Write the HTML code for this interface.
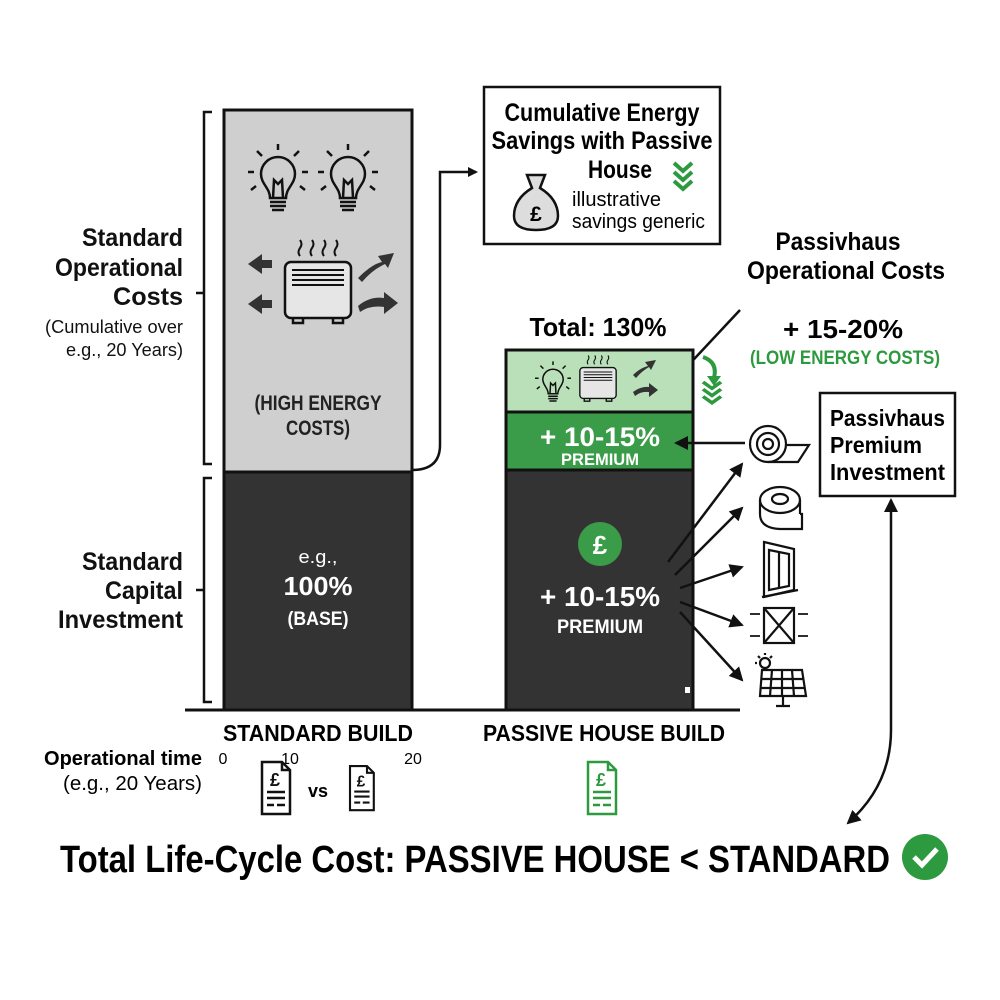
<!DOCTYPE html>
<html><head><meta charset="utf-8"><style>
html,body{margin:0;padding:0;background:#fff}
svg{display:block}
text{font-family:"Liberation Sans",sans-serif}
.b{font-weight:bold}
</style></head><body>
<svg width="1000" height="1000" viewBox="0 0 1000 1000" xmlns="http://www.w3.org/2000/svg">
<defs>
<marker id="ah" markerWidth="10" markerHeight="10" refX="8" refY="5" orient="auto" markerUnits="userSpaceOnUse"><path d="M0,0 L10,5 L0,10 z" fill="#111"/></marker>
<marker id="ah2" markerWidth="14" markerHeight="14" refX="12" refY="7" orient="auto" markerUnits="userSpaceOnUse"><path d="M0,0 L14,7 L0,14 z" fill="#111"/></marker>
<g id="bulb" fill="none" stroke="#111" stroke-width="2.5">
<path d="M-8,18 C-8,8 -17,4 -17,-6 A17,17 0 1 1 17,-6 C17,4 8,8 8,18 Z"/>
<path d="M-5,18 L-4,0 L0,4 L4,0 L5,18"/>
<path d="M-8,22 H8 M-8,26 H8 M-6,30 H6"/>
<path d="M0,-30 V-36 M-16,-24 L-21,-29 M16,-24 L21,-29 M-24,-8 H-30 M24,-8 H30 M-22,6 L-27,10 M22,6 L27,10"/>
</g>
<g id="heater" fill="none" stroke="#111" stroke-width="2.5">
<rect x="-33" y="-28" width="66" height="56" rx="6" fill="#e6e6e6"/>
<path d="M-26,-20 H26 M-26,-15 H26 M-26,-10 H26 M-26,-5 H26" stroke-width="2"/>
<path d="M-25,28 v5 h10 v-5 M15,28 v5 h10 v-5"/>
<path d="M-18,-34 q-3,-4 0,-8 q3,-4 0,-8 M-6,-34 q-3,-4 0,-8 q3,-4 0,-8 M6,-34 q-3,-4 0,-8 q3,-4 0,-8 M18,-34 q-3,-4 0,-8 q3,-4 0,-8" stroke-width="2"/>
</g>
<g id="doc" fill="#fff" stroke="#111" stroke-width="2.5">
<path d="M0,0 H20 L28,8 V52 H0 Z"/><path d="M20,0 V8 H28" fill="none"/>
<text x="8" y="24" font-size="18" font-weight="bold" fill="#111" stroke="none">£</text>
<path d="M5,30 H23 M5,36 H23 M5,43 H12 M15,43 H23" fill="none"/>
</g>
<g id="chev" fill="none" stroke="#2e9a40" stroke-width="4">
<path d="M-9,0 L0,8 L9,0 M-9,9 L0,17 L9,9 M-9,18 L0,26 L9,18"/>
</g>
</defs>

<path d="M212,112 H204 V464 H212 M204,293 H196" fill="none" stroke="#111" stroke-width="2.5"/>
<path d="M212,478 H204 V702 H212 M204,590 H196" fill="none" stroke="#111" stroke-width="2.5"/>

<g text-anchor="end" fill="#111">
<text class="b" x="183" y="246" font-size="25" textLength="101" lengthAdjust="spacingAndGlyphs">Standard</text>
<text class="b" x="183" y="276" font-size="25" textLength="128" lengthAdjust="spacingAndGlyphs">Operational</text>
<text class="b" x="183" y="305" font-size="25" textLength="70" lengthAdjust="spacingAndGlyphs">Costs</text>
<text x="183" y="333" font-size="18" textLength="138" lengthAdjust="spacingAndGlyphs">(Cumulative over</text>
<text x="183" y="356" font-size="18" textLength="117" lengthAdjust="spacingAndGlyphs">e.g., 20 Years)</text>
<text class="b" x="183" y="570" font-size="25" textLength="101" lengthAdjust="spacingAndGlyphs">Standard</text>
<text class="b" x="183" y="599" font-size="25" textLength="78" lengthAdjust="spacingAndGlyphs">Capital</text>
<text class="b" x="183" y="628" font-size="25" textLength="125" lengthAdjust="spacingAndGlyphs">Investment</text>
</g>

<rect x="224" y="110" width="188" height="362" fill="#cfcfcf" stroke="#111" stroke-width="3"/>
<rect x="224" y="472" width="188" height="238" fill="#333" stroke="#111" stroke-width="3"/>
<use href="#bulb" x="278" y="180"/>
<use href="#bulb" x="348" y="180"/>
<use href="#heater" x="318" y="290"/>
<g fill="#333">
<path d="M248,264 L262,254 V260 H272 V268 H262 V274 Z"/>
<path d="M248,304 L262,294 V300 H272 V308 H262 V314 Z"/>
<path d="M358,278 Q372,264 382,262 L378,256 L394,253 L388,268 L385,264 Q372,270 362,282 Z"/>
<path d="M358,306 Q370,296 384,298 V292 L398,303 L384,314 V307 Q370,305 360,312 Z"/>
</g>
<text class="b" x="318" y="410" font-size="21" text-anchor="middle" fill="#222" textLength="127" lengthAdjust="spacingAndGlyphs">(HIGH ENERGY</text>
<text class="b" x="318" y="435" font-size="21" text-anchor="middle" fill="#222" textLength="64" lengthAdjust="spacingAndGlyphs">COSTS)</text>
<text x="318" y="563" font-size="18" text-anchor="middle" fill="#fff" textLength="39" lengthAdjust="spacingAndGlyphs">e.g.,</text>
<text class="b" x="318" y="595" font-size="26" text-anchor="middle" fill="#fff" textLength="69" lengthAdjust="spacingAndGlyphs">100%</text>
<text class="b" x="318" y="625" font-size="19" text-anchor="middle" fill="#fff" textLength="61" lengthAdjust="spacingAndGlyphs">(BASE)</text>

<path d="M412,470 Q440,470 440,445 V172 H476" fill="none" stroke="#111" stroke-width="2.5" marker-end="url(#ah)"/>

<rect x="484" y="87" width="236" height="157" fill="#fff" stroke="#111" stroke-width="2.5"/>
<text class="b" x="602" y="121" font-size="25" text-anchor="middle" textLength="195" lengthAdjust="spacingAndGlyphs">Cumulative Energy</text>
<text class="b" x="602" y="149" font-size="25" text-anchor="middle" textLength="221" lengthAdjust="spacingAndGlyphs">Savings with Passive</text>
<text class="b" x="620" y="178" font-size="25" text-anchor="middle" textLength="64" lengthAdjust="spacingAndGlyphs">House</text>
<text x="572" y="206" font-size="20" textLength="89" lengthAdjust="spacingAndGlyphs">illustrative</text>
<text x="572" y="228" font-size="20" textLength="133" lengthAdjust="spacingAndGlyphs">savings generic</text>
<g fill="#ddd" stroke="#111" stroke-width="2.5">
<path d="M527,175 L545,175 L540,188 Q558,199 558,216 Q558,230 536,230 Q514,230 514,216 Q514,199 532,188 Z"/>
</g>
<text class="b" x="536" y="221" font-size="21" text-anchor="middle">£</text>
<use href="#chev" x="683" y="163"/>

<text class="b" x="838" y="250" font-size="25" text-anchor="middle" textLength="125" lengthAdjust="spacingAndGlyphs">Passivhaus</text>
<text class="b" x="846" y="279" font-size="25" text-anchor="middle" textLength="198" lengthAdjust="spacingAndGlyphs">Operational Costs</text>
<line x1="740" y1="310" x2="682" y2="372" stroke="#111" stroke-width="2.5" marker-end="url(#ah)"/>
<text class="b" x="598" y="336" font-size="26" text-anchor="middle" textLength="137" lengthAdjust="spacingAndGlyphs">Total: 130%</text>
<text class="b" x="843" y="338" font-size="26" text-anchor="middle" textLength="120" lengthAdjust="spacingAndGlyphs">+ 15-20%</text>
<text class="b" x="845" y="364" font-size="19" text-anchor="middle" fill="#2e9a40" textLength="190" lengthAdjust="spacingAndGlyphs">(LOW ENERGY COSTS)</text>

<rect x="506" y="350" width="187" height="62" fill="#b9e0b9" stroke="#111" stroke-width="3"/>
<rect x="506" y="412" width="187" height="58" fill="#3a9c48" stroke="#111" stroke-width="3"/>
<rect x="506" y="470" width="187" height="240" fill="#333" stroke="#111" stroke-width="3"/>
<g transform="translate(553,383) scale(0.6)"><use href="#bulb"/></g>
<g transform="translate(598,383) scale(0.55)"><use href="#heater"/></g>
<g fill="#333">
<path d="M633,375 Q640,368 648,366 L645,362 L656,360 L651,370 L649,367 Q642,371 636,378 Z"/>
<path d="M633,392 Q641,386 649,387 V383 L658,390 L649,397 V392 Q641,391 635,396 Z"/>
</g>
<path d="M703,357 Q718,362 714,378" fill="none" stroke="#2e9a40" stroke-width="4"/>
<path d="M707,376 L714,386 L721,376 Z" fill="#2e9a40"/>
<g transform="translate(712,382) scale(1,0.8)"><use href="#chev"/></g>
<text class="b" x="600" y="446" font-size="27" text-anchor="middle" fill="#fff" textLength="120" lengthAdjust="spacingAndGlyphs">+ 10-15%</text>
<text class="b" x="600" y="465" font-size="17" text-anchor="middle" fill="#fff" textLength="78" lengthAdjust="spacingAndGlyphs">PREMIUM</text>
<circle cx="600" cy="544" r="22" fill="#3a9c48"/>
<text class="b" x="600" y="554" font-size="26" text-anchor="middle" fill="#fff">£</text>
<text class="b" x="600" y="606" font-size="28" text-anchor="middle" fill="#fff" textLength="120" lengthAdjust="spacingAndGlyphs">+ 10-15%</text>
<text class="b" x="600" y="633" font-size="19" text-anchor="middle" fill="#fff" textLength="86" lengthAdjust="spacingAndGlyphs">PREMIUM</text>
<rect x="685" y="687" width="5" height="6" fill="#fff"/>

<line x1="185" y1="710" x2="740" y2="710" stroke="#111" stroke-width="3"/>

<g stroke="#111" stroke-width="2.5" marker-end="url(#ah2)">
<line x1="745" y1="443" x2="676" y2="443"/>
<line x1="668" y1="562" x2="742" y2="464"/>
<line x1="675" y1="575" x2="742" y2="508"/>
<line x1="680" y1="588" x2="742" y2="567"/>
<line x1="680" y1="602" x2="742" y2="625"/>
<line x1="680" y1="612" x2="742" y2="680"/>
</g>

<g fill="none" stroke="#111" stroke-width="2.2">
<circle cx="768" cy="444" r="18" fill="#fff"/>
<circle cx="768" cy="444" r="11"/><circle cx="768" cy="444" r="5"/>
<path d="M768,462 H798 L809,445 H786"/>
<ellipse cx="780" cy="500" rx="20" ry="13" fill="#fff"/>
<ellipse cx="780" cy="499" rx="8" ry="5"/>
<path d="M760,500 V514 Q760,528 780,529 H802 V514 H800 M800,500 V514"/>
<path d="M764,542 L794,549 V590 L764,597 Z"/>
<path d="M769,550 L789,554 V586 L769,590 Z M779,552 V588"/>
<path d="M762,597 L798,590"/>
<rect x="764" y="608" width="30" height="35"/>
<path d="M764,608 L794,643 M794,608 L764,643"/>
<path d="M750,614 H760 M798,614 H808 M750,636 H760 M798,636 H808" stroke-width="1.8"/>
<circle cx="765" cy="663" r="5"/>
<path d="M765,653 V655 M755,663 H757 M758,656 L760,658 M772,656 L770,658"/>
<path d="M762,670 H802 L806,696 H760 Z" fill="#fff"/>
<path d="M772,670 L770,696 M782,670 V696 M792,670 L794,696 M761,679 H804 M760,688 H805"/>
<path d="M783,696 V705 M776,706 H790"/>
</g>

<rect x="820" y="393" width="135" height="103" fill="#fff" stroke="#111" stroke-width="2.5"/>
<text class="b" x="830" y="426" font-size="23" textLength="115" lengthAdjust="spacingAndGlyphs">Passivhaus</text>
<text class="b" x="830" y="453" font-size="23" textLength="92" lengthAdjust="spacingAndGlyphs">Premium</text>
<text class="b" x="830" y="480" font-size="23" textLength="115" lengthAdjust="spacingAndGlyphs">Investment</text>
<path d="M891,730 Q891,785 848,823" fill="none" stroke="#111" stroke-width="2.5" marker-end="url(#ah2)"/>
<line x1="891" y1="730" x2="891" y2="500" stroke="#111" stroke-width="2.5" marker-end="url(#ah2)"/>

<text class="b" x="318" y="741" font-size="23" text-anchor="middle" textLength="190" lengthAdjust="spacingAndGlyphs">STANDARD BUILD</text>
<text class="b" x="604" y="741" font-size="23" text-anchor="middle" textLength="242" lengthAdjust="spacingAndGlyphs">PASSIVE HOUSE BUILD</text>
<text class="b" x="202" y="765" font-size="20" text-anchor="end" textLength="158" lengthAdjust="spacingAndGlyphs">Operational time</text>
<text x="202" y="790" font-size="20" text-anchor="end" textLength="139" lengthAdjust="spacingAndGlyphs">(e.g., 20 Years)</text>
<text x="223" y="764" font-size="16" text-anchor="middle">0</text>
<text x="290" y="764" font-size="16" text-anchor="middle">10</text>
<text x="413" y="764" font-size="16" text-anchor="middle">20</text>
<use href="#doc" x="262" y="762"/>
<text class="b" x="318" y="797" font-size="18" text-anchor="middle">vs</text>
<g transform="translate(350,766) scale(0.85)"><use href="#doc"/></g>
<g transform="translate(588,762)" fill="#fff" stroke="#2e9a40" stroke-width="2.5">
<path d="M0,0 H20 L28,8 V52 H0 Z"/><path d="M20,0 V8 H28" fill="none"/>
<text x="8" y="24" font-size="18" font-weight="bold" fill="#2e9a40" stroke="none">£</text>
<path d="M5,30 H23 M5,36 H23 M5,43 H12 M15,43 H23" fill="none"/>
</g>

<text class="b" x="60" y="872" font-size="38" textLength="830" lengthAdjust="spacingAndGlyphs">Total Life-Cycle Cost: PASSIVE HOUSE &lt; STANDARD</text>
<circle cx="925" cy="857" r="23" fill="#2e9a40"/>
<path d="M914,857 L922,865 L937,849" fill="none" stroke="#fff" stroke-width="5"/>
</svg>
</body></html>
